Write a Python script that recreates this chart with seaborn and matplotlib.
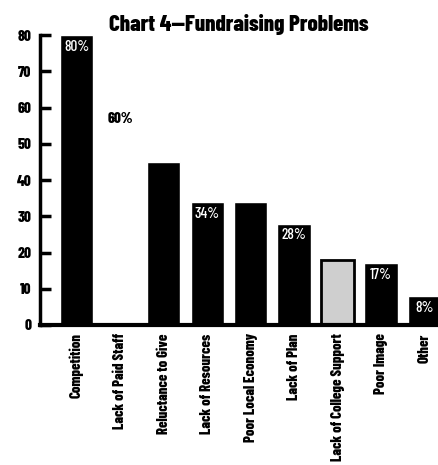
import matplotlib
matplotlib.use("Agg")
import matplotlib.pyplot as plt
import seaborn as sns
import pandas as pd

categories = ["Competition", "Lack of Paid Staff", "Reluctance to Give",
              "Lack of Resources", "Poor Local Economy", "Lack of Plan",
              "Lack of College Support", "Poor Image", "Other"]
values = [80, 60, 45, 34, 34, 28, 18, 17, 8]
value_labels = ["80%", "60%", "", "34%", "", "28%", "", "17%", "8%"]
bar_colors = ["black", "white", "black", "black", "black", "black",
              "#cfcfcf", "black", "black"]
label_colors = ["white", "black", "white", "white", "white", "white",
                "white", "white", "white"]
y_ticks = [0, 10, 20, 30, 40, 50, 60, 70, 80]

sns.set_style("white")
plt.rcParams["font.family"] = ["Barlow Condensed", "Roboto Condensed", "DejaVu Sans"]
plt.rcParams["text.color"] = "black"
plt.rcParams["xtick.color"] = "black"
plt.rcParams["ytick.color"] = "black"
plt.rcParams["axes.labelcolor"] = "black"

df = pd.DataFrame({"problem": categories, "pct": values})

fig = plt.figure(figsize=(4.38, 4.65), dpi=100)
ax = fig.add_axes([40 / 438, 140 / 465, 398 / 438, 290 / 465])

sns.barplot(data=df, x="problem", y="pct", hue="problem",
            palette=bar_colors, saturation=1, width=0.76,
            legend=False, ax=ax)

# College support bar gets a dark outline
for p, c in zip(ax.patches, bar_colors):
    if c == "#cfcfcf":
        p.set_edgecolor("black")
        p.set_linewidth(2)

# Value labels sit just inside the top of each bar
for p, lab, col in zip(ax.patches, value_labels, label_colors):
    if not lab:
        continue
    ax.annotate(lab, (p.get_x() + p.get_width() / 2, p.get_height()),
                xytext=(0, -3.5), textcoords="offset points",
                ha="center", va="top", color=col, fontsize=11,
                fontweight="heavy" if col == "black" else "medium")

ax.set_xlim(-0.84, 8.31)
ax.set_ylim(0, 80)
ax.set_yticks(y_ticks)
ax.set_xlabel("")
ax.set_ylabel("")

ax.tick_params(axis="y", direction="in", length=8, width=2.5,
               labelsize=11, pad=6, left=True)
ax.tick_params(axis="x", length=0, labelsize=10.5, pad=6)
for t in ax.get_yticklabels():
    t.set_fontweight("heavy")
ax.set_xticks(range(len(categories)))
ax.set_xticklabels(categories, rotation=90, va="top", ha="center",
                   fontweight="heavy")

for side in ["top", "right"]:
    ax.spines[side].set_visible(False)
ax.spines["left"].set_linewidth(2.5)
ax.spines["bottom"].set_linewidth(3)
ax.spines["left"].set_color("black")
ax.spines["bottom"].set_color("black")

ax.set_title("Chart 4\u2014Fundraising Problems", fontsize=16.5,
             fontweight="heavy", pad=3)

fig.savefig("out.png", dpi=100)
